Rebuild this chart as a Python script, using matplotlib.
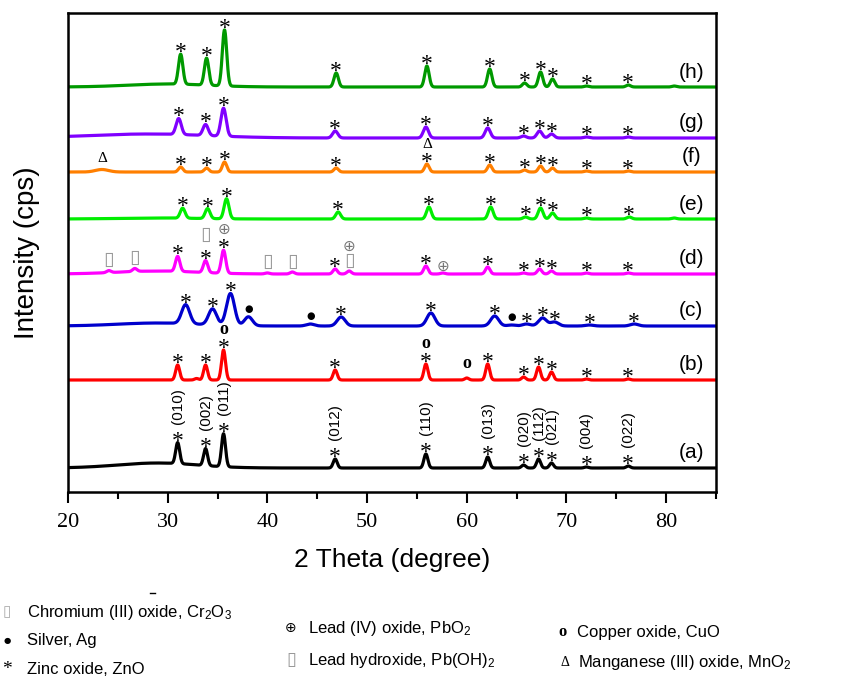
import numpy as np
import matplotlib
matplotlib.use("Agg")
import matplotlib.pyplot as plt
from matplotlib.ticker import MultipleLocator
from matplotlib.lines import Line2D

plt.rcParams['font.family'] = ['Liberation Sans', 'DejaVu Sans']
plt.rcParams['mathtext.fontset'] = 'custom'
plt.rcParams['mathtext.rm'] = 'Liberation Sans'
plt.rcParams['mathtext.it'] = 'Liberation Sans:italic'

# samples, bottom (a) to top (h)
sample_labels = ['(a)', '(b)', '(c)', '(d)', '(e)', '(f)', '(g)', '(h)']
colors = ['#000000', '#ff0000', '#0000cc', '#ff00ff', '#00ee00', '#ff7f00', '#8000ff', '#009900']
offsets = [24, 112, 166, 218, 273, 320, 354, 405]
peak_width = [0.20, 0.20, 0.40, 0.22, 0.24, 0.22, 0.26, 0.22]

# ZnO reflections (marked with *)
zno_pos = [
    [31.0, 33.8, 35.6, 46.8, 55.9, 62.1, 65.7, 67.2, 68.5, 72.0, 76.2],
    [31.0, 33.8, 35.6, 46.8, 55.9, 62.1, 65.7, 67.2, 68.5, 72.0, 76.2],
    [31.8, 34.5, 36.3, 47.4, 56.4, 62.8, 66.0, 67.6, 68.8, 72.3, 76.8],
    [31.0, 33.8, 35.6, 46.8, 55.9, 62.1, 65.7, 67.3, 68.5, 72.0, 76.2],
    [31.5, 34.0, 35.9, 47.1, 56.2, 62.4, 65.9, 67.4, 68.6, 72.0, 76.3],
    [31.3, 33.9, 35.7, 46.9, 56.0, 62.3, 65.8, 67.4, 68.6, 72.0, 76.2],
    [31.1, 33.8, 35.6, 46.8, 55.9, 62.1, 65.7, 67.3, 68.5, 72.0, 76.2],
    [31.3, 33.9, 35.7, 46.9, 56.0, 62.3, 65.8, 67.4, 68.6, 72.0, 76.2],
]
zno_h = [
    [21, 17, 33, 9, 14, 11, 3, 9, 5, 1, 2],
    [15, 15, 30, 10, 16, 16, 3, 13, 8, 1, 1],
    [19, 16, 32, 9, 13, 10, 2, 8, 4, 1, 2],
    [15, 12, 23, 5, 8, 7, 1, 5, 3, 1, 1],
    [10, 10, 20, 7, 12, 12, 2, 11, 6, 1, 2],
    [5, 4, 10, 4, 8, 7, 2, 6, 4, 1, 1],
    [16, 11, 28, 7, 11, 10, 2, 7, 4, 1, 1],
    [30, 27, 56, 14, 21, 18, 4, 15, 8, 1, 2],
]
hkl = ['(010)', '(002)', '(011)', '(012)', '(110)', '(013)', '(020)', '(112)', '(021)', '(004)', '(022)']

# other small reflections
extra_pos = [[], [32.9, 60.0], [38.1, 44.3, 64.5], [24.1, 26.7, 40.0, 42.5, 48.2, 57.6],
             [80.8], [23.4], [], [80.8]]
extra_h = [[], [1.5, 2], [9, 2, 1], [2, 3, 1, 2, 3, 1], [1], [2.5], [], [1]]

# broad amorphous background
hump_center = [29, 29, 29, 29, 29, 29, 28, 30]
hump_h = [5, 0, 3, 3, 1, 0, 4, 3]
hump_w = [4, 4, 4, 4, 4, 4, 6, 4]

# secondary phase markers: (sample index, 2theta)
cuo_marks = [(1, 35.6), (1, 55.9), (1, 60.0)]
ag_marks = [(2, 38.1), (2, 44.3), (2, 64.5)]
pboh_marks = [(3, 24.1), (3, 26.7), (3, 33.8), (3, 40.0), (3, 42.5), (3, 48.2)]
pbo2_marks = [(3, 35.6), (3, 48.2), (3, 57.6)]
mno2_marks = [(5, 23.4), (5, 56.0)]

x_ticks = [20, 30, 40, 50, 60, 70, 80]

two_theta = np.linspace(20, 85, 3000)


def pattern(i, x):
    y = np.full_like(x, offsets[i], dtype=float)
    for p, h in zip(zno_pos[i] + extra_pos[i], zno_h[i] + extra_h[i]):
        w = peak_width[i] * (3.0 if p == 23.4 else 1.0)
        y += h * np.exp(-0.5 * ((x - p) / w) ** 2)
    y += hump_h[i] * np.exp(-0.5 * ((x - hump_center[i]) / hump_w[i]) ** 2)
    return y


fig = plt.figure(figsize=(8.55, 6.83), dpi=100)
ax = fig.add_axes([68 / 855, 1 - 492 / 683, 648 / 855, 479 / 683])

for i in range(len(sample_labels)):
    ax.plot(two_theta, pattern(i, two_theta), color=colors[i], lw=2.3)
    ax.text(82.5, offsets[i] + 15, sample_labels[i], ha='center', va='center', fontsize=15)

# stack[(sample, pos)] = (centre of the highest mark so far, kind of that mark)
stack = {}
star_font = dict(family='Liberation Serif', fontsize=17, ha='center', va='baseline')

for i in range(len(sample_labels)):
    for p in zno_pos[i]:
        top = float(pattern(i, np.array([p]))[0])
        sc = top + 8
        ax.text(p, sc - 12, '*', **star_font)
        stack[(i, p)] = (sc, 'star')
        if i == 0:
            ax.text(p, sc + 11, hkl[zno_pos[0].index(p)], rotation=90, ha='center',
                    va='bottom', fontsize=11)


def put(marks, sym, gaps, **kw):
    for i, p in marks:
        if (i, p) in stack:
            yc, kind = stack[(i, p)]
            y = yc + gaps[kind]
        else:
            y = float(pattern(i, np.array([p]))[0]) + gaps['free']
        ax.text(p, y, sym, ha='center', va='center', **kw)
        stack[(i, p)] = (y, 'mark')


put(ag_marks, '\u25cf', {'free': 8}, fontsize=7, family='DejaVu Sans', color='black')
put(pboh_marks, '\u25af', {'free': 11, 'star': 18}, fontsize=14, family='DejaVu Sans',
    color='#999999')
put(pbo2_marks, '\u2295', {'free': 7, 'star': 13, 'mark': 14}, fontsize=11,
    family='DejaVu Sans', color='#777777')
put(cuo_marks, 'o', {'free': 14, 'star': 13}, fontsize=13, family='Liberation Serif',
    weight='bold')
put(mno2_marks, '\u0394', {'free': 11, 'star': 11}, fontsize=11, family='Liberation Serif')

ax.set_xlim(20, 85)
ax.set_ylim(0, 479)
ax.set_yticks([])
ax.set_xticks(x_ticks)
ax.set_xticklabels([str(t) for t in x_ticks], fontfamily='Liberation Serif', fontsize=16)
ax.xaxis.set_minor_locator(MultipleLocator(5))
ax.tick_params(axis='x', which='major', direction='out', length=8, width=1.5, pad=7)
ax.tick_params(axis='x', which='minor', direction='out', length=5, width=1.5)
for s in ax.spines.values():
    s.set_linewidth(1.8)
ax.set_xlabel('2 Theta (degree)', fontsize=19, labelpad=12)
ax.set_ylabel('Intensity (cps)', fontsize=20, labelpad=20)


# phase key below the chart
def key(xp, yp, sym, label, sym_kw, dx=21):
    fig.text(xp / 855, 1 - yp / 683, sym, ha='center', va='center', **sym_kw)
    fig.text((xp + dx) / 855, 1 - yp / 683, label, ha='left', va='center', fontsize=12)


key(7, 612, '\u25af', r'Chromium (III) oxide, Cr$_2$O$_3$',
    dict(fontsize=11, family='DejaVu Sans', color='#aaaaaa'), dx=20)
key(7, 640, '\u25cf', 'Silver, Ag', dict(fontsize=6, family='DejaVu Sans'), dx=20)
key(7, 670, '*', 'Zinc oxide, ZnO', dict(fontsize=14, family='Liberation Serif'), dx=20)
key(291, 628, '\u2295', r'Lead (IV) oxide, PbO$_2$', dict(fontsize=10, family='DejaVu Sans'), dx=17)
key(291, 660, '\u25af', r'Lead hydroxide, Pb(OH)$_2$',
    dict(fontsize=13, family='DejaVu Sans', color='#999999'), dx=17)
key(562, 632, 'o', r'Copper oxide, CuO', dict(fontsize=12, family='Liberation Serif', weight='bold'), dx=15)
key(565, 663, '\u0394', r'Manganese (III) oxide, MnO$_2$', dict(fontsize=10, family='Liberation Serif'), dx=13)
fig.add_artist(Line2D([150 / 855, 155 / 855], [1 - 593 / 683] * 2, color='black', lw=1))

fig.savefig('out.png', dpi=100)
